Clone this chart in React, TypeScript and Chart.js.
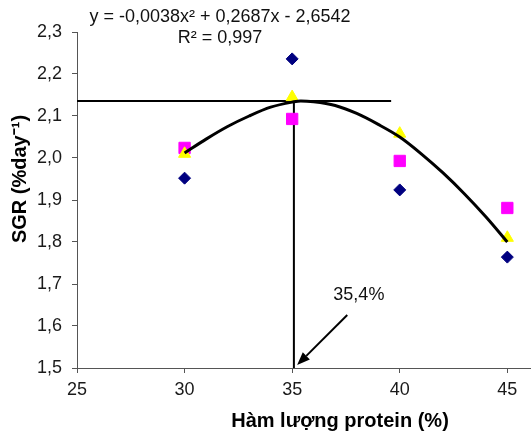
import React, { useEffect, useRef } from 'react';
import { Chart, registerables } from 'chart.js';

Chart.register(...registerables);

// ---- data ----
const proteinLevels = [30, 35, 40, 45];
const sgrDiamond = [1.952, 2.236, 1.924, 1.764];
const sgrSquare = [2.024, 2.093, 1.993, 1.881];
const sgrTriangle = [2.01, 2.145, 2.058, 1.81];

const trendX = [30, 31, 32, 33, 34, 35, 35.4, 36, 37, 38, 39, 40, 41, 42, 43, 44, 45];
const trendY = [2.012, 2.045, 2.075, 2.1, 2.121, 2.133, 2.136, 2.134, 2.125, 2.106, 2.08, 2.05, 2.01, 1.965, 1.915, 1.86, 1.8];

const optimumX = 35.08;
const optimumY = 2.136;
const hLineStartX = 25;
const hLineEndX = 39.6;
const yMin = 1.5;
const yMax = 2.3;
const xMin = 25;
const xMax = 46.1;

const xTicks = [25, 30, 35, 40, 45];
const yTicks = [1.5, 1.6, 1.7, 1.8, 1.9, 2.0, 2.1, 2.2, 2.3];

const equationLines = ['y = -0,0038x² + 0,2687x - 2,6542', 'R² = 0,997'];
const optimumLabel = '35,4%';
const arrowFrom = { x: 37.56, y: 1.626 };
const arrowTo = { x: 35.23, y: 1.507 };
const labelPos = { x: 38.1, y: 1.674 };

const xTitle = 'Hàm lượng protein (%)';
const yTitle = 'SGR (%day⁻¹)';

const FONT = '"Liberation Sans", Arial, sans-serif';

const overlayPlugin = {
  id: 'overlay',
  afterDatasetsDraw(chart: any) {
    const { ctx } = chart;
    const xs = chart.scales.x;
    const ys = chart.scales.y;
    ctx.save();
    // arrow
    const x1 = xs.getPixelForValue(arrowFrom.x);
    const y1 = ys.getPixelForValue(arrowFrom.y);
    const x2 = xs.getPixelForValue(arrowTo.x);
    const y2 = ys.getPixelForValue(arrowTo.y);
    const ang = Math.atan2(y2 - y1, x2 - x1);
    const head = 13;
    const hw = 5;
    const bx = x2 - head * Math.cos(ang);
    const by = y2 - head * Math.sin(ang);
    ctx.strokeStyle = '#000';
    ctx.fillStyle = '#000';
    ctx.lineWidth = 2;
    ctx.beginPath();
    ctx.moveTo(x1, y1);
    ctx.lineTo(bx, by);
    ctx.stroke();
    ctx.beginPath();
    ctx.moveTo(x2, y2);
    ctx.lineTo(bx + hw * Math.sin(ang), by - hw * Math.cos(ang));
    ctx.lineTo(bx - hw * Math.sin(ang), by + hw * Math.cos(ang));
    ctx.closePath();
    ctx.fill();

    // labels
    ctx.fillStyle = '#111';
    ctx.textAlign = 'center';
    ctx.textBaseline = 'middle';
    ctx.font = `18px ${FONT}`;
    ctx.fillText(optimumLabel, xs.getPixelForValue(labelPos.x), ys.getPixelForValue(labelPos.y));
    ctx.fillText(equationLines[0], 220, 17);
    ctx.fillText(equationLines[1], 220, 38);

    // axis titles
    ctx.fillStyle = '#000';
    ctx.font = `bold 20px ${FONT}`;
    ctx.fillText(xTitle, 340, 421);
    ctx.translate(20, 179);
    ctx.rotate(-Math.PI / 2);
    ctx.fillText(yTitle, 0, 0);
    ctx.restore();
  },
};

export default function App() {
  const canvasRef = useRef<HTMLCanvasElement | null>(null);

  useEffect(() => {
    if (!canvasRef.current) return;
    const toXY = (xsArr: number[], ysArr: number[]) => xsArr.map((v, i) => ({ x: v, y: ysArr[i] }));

    const chart = new Chart(canvasRef.current, {
      type: 'scatter',
      data: {
        datasets: [
          {
            label: 'trend',
            data: toXY(trendX, trendY),
            showLine: true,
            borderColor: '#000',
            borderWidth: 3,
            pointRadius: 0,
            tension: 0.4,
            cubicInterpolationMode: 'monotone',
            order: 0,
          },
          {
            label: 'triangle',
            data: toXY(proteinLevels, sgrTriangle),
            pointStyle: 'triangle',
            pointRadius: 7,
            backgroundColor: '#FFFF00',
            borderColor: '#FFFF00',
            borderWidth: 1,
            order: 1,
          },
          {
            label: 'square',
            data: toXY(proteinLevels, sgrSquare),
            pointStyle: 'rect',
            pointRadius: 8,
            backgroundColor: '#FF00FF',
            borderColor: '#FF00FF',
            borderWidth: 1,
            order: 2,
          },
          {
            label: 'diamond',
            data: toXY(proteinLevels, sgrDiamond),
            pointStyle: 'rectRot',
            pointRadius: 6,
            backgroundColor: '#000080',
            borderColor: '#000080',
            borderWidth: 1,
            order: 3,
          },
          {
            label: 'hline',
            data: [
              { x: hLineStartX, y: optimumY },
              { x: hLineEndX, y: optimumY },
            ],
            showLine: true,
            borderColor: '#000',
            borderWidth: 2,
            pointRadius: 0,
            order: 4,
          },
          {
            label: 'vline',
            data: [
              { x: optimumX, y: optimumY },
              { x: optimumX, y: yMin },
            ],
            showLine: true,
            borderColor: '#000',
            borderWidth: 2,
            pointRadius: 0,
            order: 4,
          },
        ],
      },
      options: {
        responsive: false,
        animation: false,
        devicePixelRatio: 1,
        layout: { autoPadding: false, padding: { top: 32, right: 0, left: 0, bottom: 0 } },
        plugins: {
          legend: { display: false },
          tooltip: { enabled: false },
          title: { display: false },
        },
        scales: {
          x: {
            type: 'linear',
            min: xMin,
            max: xMax,
            afterBuildTicks: (s: any) => {
              s.ticks = xTicks.map((v) => ({ value: v }));
            },
            afterFit: (s: any) => {
              s.height = 71;
              s.paddingLeft = 0;
              s.paddingRight = 0;
            },
            grid: { drawOnChartArea: false, drawTicks: true, tickLength: 5, color: '#555' },
            border: { display: true, color: '#555', width: 1 },
            ticks: {
              color: '#1a1a1a',
              font: { family: FONT, size: 18 },
              padding: 6,
              maxRotation: 0,
              autoSkip: false,
              callback: (v: any) => String(v),
            },
          },
          y: {
            type: 'linear',
            min: yMin,
            max: yMax,
            afterBuildTicks: (s: any) => {
              s.ticks = yTicks.map((v) => ({ value: v }));
            },
            afterFit: (s: any) => {
              s.width = 77;
              s.paddingTop = 0;
              s.paddingBottom = 0;
            },
            grid: { drawOnChartArea: false, drawTicks: true, tickLength: 5, color: '#555' },
            border: { display: true, color: '#555', width: 1 },
            ticks: {
              color: '#1a1a1a',
              font: { family: FONT, size: 18 },
              padding: 10,
              autoSkip: false,
              callback: (v: any) => Number(v).toFixed(1).replace('.', ','),
            },
          },
        },
      },
      plugins: [overlayPlugin],
    } as any);

    return () => chart.destroy();
  }, []);

  return (
    <div style={{ position: 'absolute', left: 0, top: 0, width: 531, height: 439, background: '#fff' }}>
      <canvas ref={canvasRef} width={531} height={439} style={{ display: 'block' }} />
    </div>
  );
}
